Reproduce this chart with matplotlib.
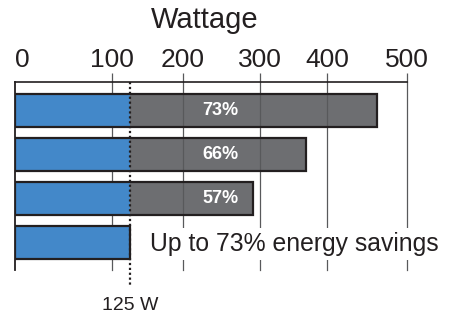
import numpy as np
import matplotlib
matplotlib.use("Agg")
import matplotlib.pyplot as plt
import matplotlib.transforms as mtransforms

plt.rcParams['font.family'] = ['Liberation Sans', 'DejaVu Sans']

# data
baseline_w = 125
totals_w = [463, 368, 291, 125]          # wattage of each bar (last one is the 125 W option)
savings = ["73%", "66%", "57%", ""]
tick_vals = [0, 100, 200, 300, 400, 500]
tick_labels = ["0", "100", "200", "300", "400", "500"]
# the printed axis is unevenly spaced, keep that spacing as a warped scale
warp_px = [15, 112, 183, 260, 327, 407]

blue = "#4388c9"
grey = "#6d6e71"
ink = "#231f20"
gridc = "#58595b"


def fwd(x):
    return np.interp(x, tick_vals, warp_px)


def inv(x):
    return np.interp(x, warp_px, tick_vals)


W, H = 454, 314
fig = plt.figure(figsize=(W / 100, H / 100), dpi=100)
ax = fig.add_axes([15 / W, 1 - 270 / H, (407 - 15) / W, (270 - 82) / H])
ax.set_xscale('function', functions=(fwd, inv))
ax.set_xlim(0, 500)
ax.set_ylim(3.61, -0.632)

ys = np.arange(len(totals_w))
bh = 0.745
ax.barh(ys, totals_w, height=bh, color=grey, linewidth=0, zorder=1)
ax.barh(ys, [baseline_w] * len(ys), height=bh, color=blue, linewidth=0, zorder=3)
ax.barh(ys, totals_w, height=bh, fill=False, edgecolor=ink, linewidth=1.6, zorder=4)

# grid
for v in tick_vals[1:]:
    ax.axvline(v, color=gridc, linewidth=0.9, zorder=2, clip_on=False)

# axis styling
for s in ['right', 'bottom']:
    ax.spines[s].set_visible(False)
ax.spines['top'].set_color(ink)
ax.spines['top'].set_linewidth(1.2)
ax.spines['left'].set_color(ink)
ax.spines['left'].set_linewidth(1.3)
ax.set_yticks([])
ax.xaxis.tick_top()
ax.set_xticks(tick_vals)
ax.set_xticklabels(tick_labels, fontsize=19, color=ink)
ax.tick_params(axis='x', direction='out', length=6.5, width=0.9, color=gridc, pad=0.5)
ax.xaxis.get_major_ticks()[0].tick2line.set_visible(False)
ax.get_xticklabels()[0].set_horizontalalignment('left')

# savings labels
tr = mtransforms.blended_transform_factory(ax.transAxes, ax.transData)
for y, s in zip(ys, savings):
    if s:
        ax.text(0.523, y, s, transform=tr, ha='center', va='center',
                color='white', fontsize=13, fontweight='bold', zorder=5)

ax.text(0.712, 3.03, "Up to 73% energy savings", transform=tr, ha='center', va='center',
        fontsize=17.8, color=ink, zorder=6,
        bbox=dict(facecolor='white', edgecolor='none', pad=3))

# 125 W reference
ax.plot([baseline_w, baseline_w], [-0.632, 3.97], color=ink, linestyle=(0, (1, 1.2)),
        linewidth=1.6, clip_on=False, zorder=7)
ax.text(baseline_w, 4.42, "125 W", ha='center', va='center', fontsize=14, color=ink,
        clip_on=False)

fig.text(205 / W, 1 - 20 / H, "Wattage", ha='center', va='center', fontsize=21, color=ink)

fig.savefig("out.png", dpi=100)
